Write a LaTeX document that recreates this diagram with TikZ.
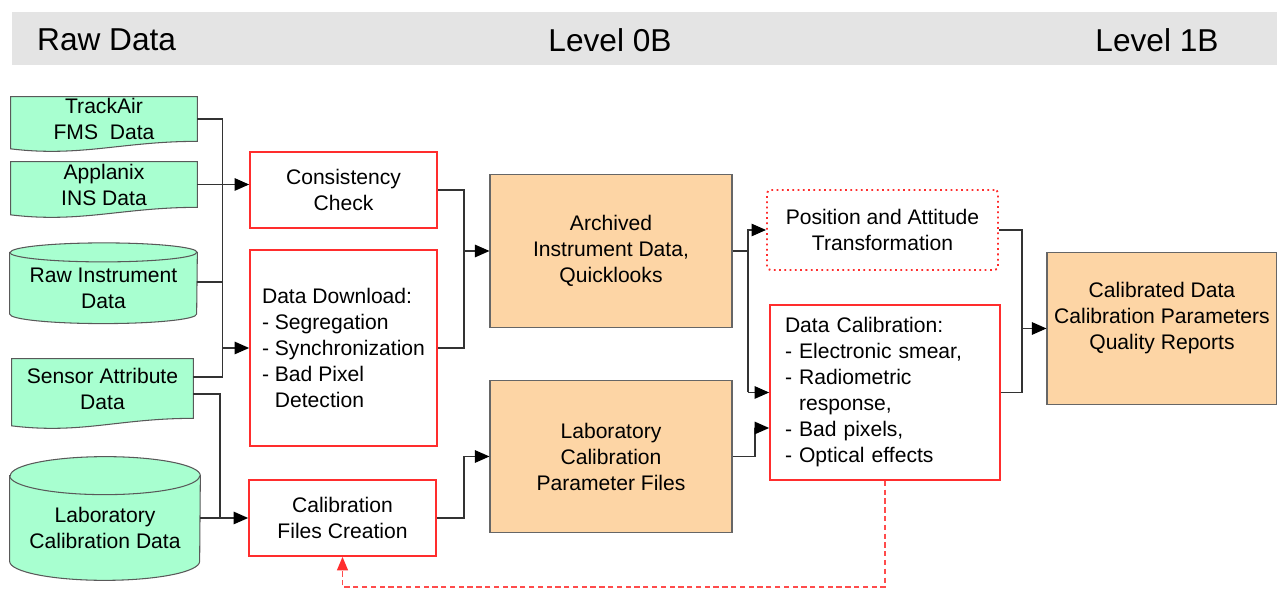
\documentclass[tikz,border=0pt]{standalone}
\usepackage{fontspec}
\setmainfont{Liberation Sans}
\usetikzlibrary{arrows.meta,calc,backgrounds}

\definecolor{datagreen}{RGB}{168,255,208}
\definecolor{prodorange}{RGB}{253,213,165}
\definecolor{procred}{RGB}{255,45,45}
\definecolor{bandgray}{RGB}{228,228,228}

% flat top, wavy bottom (document symbol) behind a named node
\newcommand{\wavedoc}[1]{%
  \path[shell] (#1.north west) -- (#1.north east) -- (#1.south east)
    .. controls ($(#1.south east)+(-1.5,0)$) and ($(#1.south west)+(1.4,-0.32)$) .. ($(#1.south west)+(0,-0.15)$) -- cycle;}
% upright drum (database symbol) behind a named node: #2 x radius, #3 y radius
\newcommand{\drumpath}[3]{%
  \path[shell] (#1.north west) -- ([yshift=#3]#1.south west)
    arc[start angle=180, end angle=360, x radius=#2, y radius=#3]
    -- (#1.north east) arc[start angle=0, end angle=180, x radius=#2, y radius=#3] -- cycle;
  \draw[shell, fill=none] (#1.north west) arc[start angle=180, end angle=360, x radius=#2, y radius=#3];}

\begin{document}
\begin{tikzpicture}[font=\fontsize{12}{14.8}\selectfont]
  \tikzset{source/.style = {shape=rectangle, inner sep=0pt, align=center}}
  \tikzset{shell/.style = {draw=black!65, fill=datagreen, line width=0.6pt}}
  \tikzset{proc/.style = {shape=rectangle, draw=procred, line width=1pt, minimum width=3.74cm, minimum height=1.52cm, align=center, inner sep=2pt}}
  \tikzset{store/.style = {shape=rectangle, draw=black!60, fill=prodorange, line width=0.6pt, minimum width=4.84cm, minimum height=3.05cm, align=center}}
  \tikzset{wire/.style = {draw=black!80, line width=0.7pt}}
  \tikzset{arr/.style = {wire, -{Triangle[length=0.29cm,width=0.25cm,color=black]}}}
  \tikzset{fb/.style = {draw=procred!85, line width=0.7pt, dash pattern=on 3pt off 2pt, -{Triangle[length=0.27cm,width=0.22cm,color=procred]}}}
  \tikzset{level/.style = {font=\fontsize{18}{20}\selectfont}}

  \useasboundingbox (0,0) rectangle (25.54,11.78);
  \fill[bandgray] (0.24,10.48) rectangle (25.54,11.54);

	\node[level, anchor=west] (hraw) at (0.62,10.98) {Raw Data};
	\node[level] (hzero) at (12.20,10.98) {Level 0B};
	\node[level] (hone) at (23.14,10.98) {Level 1B};

	% raw data
	\node[source, minimum width=3.72cm, minimum height=0.88cm] (trackair) at (2.08,9.40) {TrackAir\\FMS\ \ Data};
	\node[source, minimum width=3.72cm, minimum height=0.90cm] (applanix) at (2.08,8.09) {Applanix\\INS Data};
	\node[source, minimum width=3.74cm, minimum height=1.41cm] (rawinst) at (2.07,6.02) {Raw Instrument\\Data};
	\node[source, minimum width=3.62cm, minimum height=1.18cm] (sensor) at (2.05,4.01) {Sensor Attribute\\Data};
	\node[source, minimum width=3.80cm, minimum height=2.08cm] (labdata) at (2.10,1.22) {Laboratory\\Calibration Data};

	% level 0B
	\node[proc] (consist) at (6.87,7.98) {Consistency\\Check};
	\node[proc, minimum height=3.92cm, align=left] (download) at (6.87,4.82) {Data Download:\\- Segregation\\- Synchronization\\- Bad Pixel\\\hphantom{- }Detection};
	\node[proc] (calfiles) at (6.85,1.42) {Calibration\\Files Creation};
		\node[store] (archive) at (12.22,6.76) {Archived\\Instrument Data,\\Quicklooks};
		\node[store] (labparams) at (12.22,2.65) {Laboratory\\Calibration\\Parameter Files};

	% level 1B
	\node[proc, dotted, line width=1.1pt, rounded corners=2pt, minimum width=4.62cm, minimum height=1.6cm] (position) at (17.65,7.18) {Position and Attitude\\Transformation};
	\node[proc, minimum width=4.6cm, minimum height=3.5cm, text width=4.0cm, align=left] (datacal) at (17.70,3.93) {Data Calibration:\\- Electronic smear,\\- Radiometric\\\hphantom{- }response,\\- Bad pixels,\\- Optical effects};
		\node[store, minimum width=4.6cm, minimum height=3.04cm, inner xsep=1pt] (calibrated) at (23.24,5.21) {Calibrated Data\\Calibration Parameters\\Quality Reports\\\mbox{}};

  \begin{scope}[on background layer]
    \wavedoc{trackair}
    \wavedoc{applanix}
    \wavedoc{sensor}
    \drumpath{rawinst}{1.87cm}{0.19cm}
    \drumpath{labdata}{1.90cm}{0.38cm}
  \end{scope}

  \coordinate (rawbus) at (4.45,0);
  \coordinate (calbus) at (4.40,0);
  \coordinate (arcbus) at (9.28,0);
  \coordinate (lvlbus) at (14.96,0);
  \coordinate (labbus) at (15.10,0);
  \coordinate (outbus) at (20.44,0);
  \coordinate (calin) at ([yshift=-0.71cm]datacal.west);

	\draw[wire] ([yshift=0.23cm]sensor.east) -| (rawbus |- trackair.east) -- (trackair.east);
	\draw[wire] ([yshift=0.12cm]rawinst.east) -- ([yshift=0.12cm]rawinst.east -| rawbus);
	\draw[arr] (applanix.east) -- (applanix.east -| consist.west);
	\draw[arr] (rawbus |- download.west) -- (download.west);
	\draw[wire] ([yshift=-0.11cm]sensor.east) -| (calbus |- calfiles.west);
	\draw[arr] (calfiles.west -| labdata.east) -- (calfiles.west);

	\draw[wire] (consist.east) -| (arcbus |- download.east) -- (download.east);
	\draw[arr] (arcbus |- archive.west) -- (archive.west);
	\draw[arr] (calfiles.east) -| (arcbus |- labparams.west) -- (labparams.west);

	\draw[wire] (archive.east) -- (archive.east -| lvlbus);
	\draw[arr] (lvlbus |- datacal.west) |- (position.west);
	\draw[arr] (lvlbus |- datacal.west) -- (datacal.west);
	\draw[arr] (labparams.east) -| (labbus |- calin) -- (calin);

	\draw[wire] (position.east) -| (outbus |- datacal.east) -- (datacal.east);
	\draw[arr] (outbus |- calibrated.west) -- (calibrated.west);

	\draw[fb] (datacal.south) -- (datacal.south |- 0,0.04) -| (calfiles.south);
\end{tikzpicture}
\end{document}
